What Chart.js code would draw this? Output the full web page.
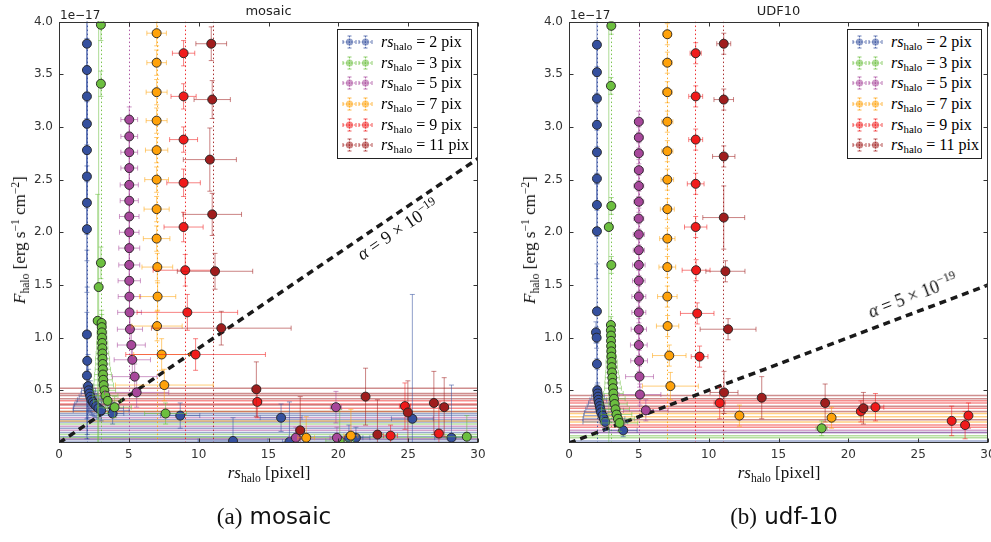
<!DOCTYPE html>
<html>
<head>
<meta charset="utf-8">
<script src="https://cdn.jsdelivr.net/npm/chart.js@4"></script>
<style>
  body { margin: 0; background: #fff; }
  #page { position: relative; width: 991px; height: 542px; overflow: hidden; }
  canvas { position: absolute; top: 0; }
  .serif { position: absolute; font-family: "Liberation Serif", "DejaVu Serif", serif; color: #111; white-space: nowrap; }
  .serif sub { font-size: 0.68em; vertical-align: -0.35em; line-height: 0; }
  .serif sup { font-size: 0.68em; vertical-align: 0.55em; line-height: 0; }
  .xtitle { top: 463px; font-size: 17px; transform: translateX(-50%); }
  .ytitle { top: 240px; font-size: 17px; transform: translate(-50%, -50%) rotate(-90deg); }
  .ann { font-size: 18px; transform: translate(-50%, -50%); }
  .expo { position: absolute; top: 8px; font: 12px "DejaVu Sans", sans-serif; color: #222; }
  .legend { position: absolute; top: 29px; width: 133px; height: 126px; border: 1px solid #222; background: #fff; padding-top: 2px; box-sizing: content-box; }
  .legend .row { height: 20.6px; display: flex; align-items: center; padding-left: 4px; }
  .legend svg { margin-right: 1px; }
  .legend .txt { font-family: "Liberation Serif", "DejaVu Serif", serif; font-size: 16px; margin-left: 7px; white-space: nowrap; }
  .legend .txt sub { font-size: 0.68em; vertical-align: -0.3em; line-height: 0; }
  .caption { position: absolute; top: 503px; font: 23px "DejaVu Sans", sans-serif; color: #111; transform: translateX(-50%); white-space: nowrap; }
  .caption .p { font-family: "Liberation Serif", serif; }
</style>
</head>
<body>
<div id="page">
  <canvas id="mosaic" width="490" height="470" style="left:0"></canvas>
  <canvas id="udf" width="490" height="470" style="left:510px"></canvas>
</div>
<script>
// radii of the injected haloes, one series each
const rsValues = [2, 3, 5, 7, 9, 11];
const seriesRgb = ['53,80,158', '108,191,63', '167,71,155', '255,162,10', '240,27,27', '160,29,29'];
const xTicks = [0, 5, 10, 15, 20, 25, 30];
const yTicks = [0.5, 1.0, 1.5, 2.0, 2.5, 3.0, 3.5, 4.0];
const panelTitles = ['mosaic', 'UDF10'];
const alphaCoeff = [9, 5];          // alpha in units of 1e-19
const fluxUnit = 1e-17;

// each row: [rs measured, F_halo (1e-17), x error, y error]
const mosaicRs2 = [
  [2.0,3.79,0.05,0.55],[2.0,3.54,0.05,0.55],[2.0,3.29,0.05,0.55],[2.0,3.03,0.05,0.55],[2.0,2.78,0.05,0.55],
  [2.0,2.53,0.05,0.55],[2.0,2.28,0.05,0.55],[2.0,2.03,0.05,0.6],[2.0,1.03,0.05,0.8],[2.02,0.78,0.1,0.7],
  [2.0,0.64,0.2,0.6],[2.08,0.54,0.35,0.3],[2.12,0.50,0.5,0.2],[2.18,0.47,0.6,0.16],[2.24,0.44,0.8,0.15],
  [2.32,0.41,1.0,0.14],[2.42,0.39,1.2,0.13],[2.52,0.37,1.4,0.12],[2.66,0.35,1.6,0.11],[2.82,0.33,1.8,0.1],
  [3.02,0.31,2.0,0.1],[3.84,0.28,0.8,0.1],[8.68,0.26,1.4,0.12],[12.46,0.02,2.5,0.22],[15.9,0.24,1.5,0.13],
  [16.5,0.01,0.5,0.38],[20.76,0.05,1.0,0.12],[21.26,0.05,1.0,0.1],[25.3,0.23,1.5,1.18],[28.1,0.05,1.2,0.5]
];
const mosaicRs3 = [
  [3.0,3.97,0.05,0.15],[3.0,3.41,0.05,0.12],[3.0,1.71,0.05,0.15],[2.84,1.48,0.08,2.6],[2.77,1.16,0.3,1.2],
  [3.05,1.14,0.3,0.12],[3.06,1.10,0.3,0.12],[3.07,1.05,0.35,0.12],[3.08,1.00,0.35,0.12],[3.09,0.95,0.4,0.12],
  [3.10,0.90,0.4,0.12],[3.11,0.85,0.45,0.12],[3.12,0.80,0.5,0.12],[3.13,0.75,0.5,0.12],[3.14,0.70,0.55,0.12],
  [3.15,0.65,0.6,0.12],[3.17,0.60,0.65,0.12],[3.20,0.55,0.7,0.12],[3.25,0.50,0.8,0.12],[3.32,0.45,0.9,0.12],
  [3.48,0.40,1.0,0.12],[3.98,0.34,1.2,0.1],[7.63,0.28,1.5,0.1],[20.1,0.02,1.0,0.3],[29.2,0.06,1.5,0.2]
];
const mosaicRs5 = [
  [5.03,3.07,0.6,0.12],[5.03,2.91,0.6,0.12],[5.03,2.76,0.6,0.12],[5.03,2.61,0.6,0.12],[5.03,2.45,0.65,0.12],
  [5.03,2.30,0.65,0.12],[5.03,2.15,0.7,0.12],[5.03,2.00,0.7,0.12],[5.03,1.85,0.75,0.12],[5.03,1.69,0.75,0.12],
  [5.03,1.54,0.8,0.12],[5.04,1.39,0.8,0.12],[5.05,1.24,0.85,0.12],[5.08,1.08,0.9,0.12],[5.18,0.93,1.0,0.12],
  [5.25,0.79,1.3,0.12],[5.42,0.63,1.6,0.12],[5.56,0.48,2.3,0.14],[19.83,0.34,0.4,0.15],[16.96,0.05,0.5,0.1],
  [19.9,0.05,0.5,0.1]
];
const mosaicRs7 = [
  [6.99,3.89,0.7,0.12],[6.99,3.61,0.7,0.12],[6.99,3.33,0.75,0.12],[6.99,3.06,0.75,0.12],[6.99,2.78,0.8,0.12],
  [6.99,2.50,0.85,0.12],[6.99,2.22,0.9,0.12],[6.99,1.94,0.95,0.12],[7.04,1.67,1.1,0.13],[7.06,1.39,1.3,0.13],
  [7.02,1.11,1.8,0.14],[7.35,0.84,2.0,0.15],[7.54,0.55,3.5,0.15],[17.7,0.05,0.6,0.2],[20.9,0.07,0.5,0.25]
];
const mosaicRs9 = [
  [8.92,3.70,0.8,0.12],[8.92,3.29,0.9,0.12],[8.92,2.88,1.0,0.12],[8.92,2.47,1.2,0.13],[8.92,2.05,1.4,0.14],
  [9.04,1.64,2.3,0.15],[9.19,1.24,3.6,0.17],[9.78,0.84,5.0,0.15],[14.2,0.39,0.3,0.15],[24.77,0.35,0.4,0.22],
  [27.2,0.09,0.3,0.3],[23.74,0.07,0.5,0.1]
];
const mosaicRs11 = [
  [10.9,3.79,1.1,0.16],[10.97,3.26,1.3,0.18],[10.8,2.69,1.9,0.3],[10.97,2.17,2.1,0.2],[11.17,1.63,2.7,0.17],
  [11.62,1.09,5.0,0.16],[14.13,0.51,0.3,0.26],[21.95,0.44,0.2,0.27],[26.84,0.38,0.2,0.3],[27.58,0.34,0.3,0.28],
  [24.98,0.29,0.2,0.3],[17.27,0.12,0.3,0.32],[22.8,0.08,0.3,0.33]
];
// faint fits whose x error spans the whole axis, by series
const mosaicWide = [
  [0.28,0.26,0.22,0.20,0.14,0.10,0.06,0.03,0.01],
  [0.30,0.18,0.08,0.05],
  [0.24,0.16,0.12,0.04],
  [0.21],
  [0.40,0.37,0.33,0.30],
  [0.52,0.47,0.45,0.42,0.36]
];

const udfRs2 = [
  [2.0,3.78,0.05,0.3],[2.0,3.52,0.05,0.3],[2.0,3.27,0.05,0.3],[2.0,3.02,0.05,0.3],[2.0,2.76,0.05,0.3],
  [2.0,2.51,0.05,0.3],[2.0,2.26,0.05,0.3],[2.0,2.01,0.05,0.45],[2.0,1.25,0.05,0.45],[1.93,1.05,0.1,0.1],
  [1.98,1.00,0.1,0.1],[2.0,0.75,0.1,0.2],[2.02,0.50,0.1,0.2],[2.05,0.47,0.3,0.1],[2.08,0.44,0.45,0.1],
  [2.10,0.41,0.6,0.1],[2.15,0.38,0.75,0.1],[2.20,0.35,0.9,0.1],[2.25,0.32,1.05,0.1],[2.30,0.29,1.2,0.1],
  [2.40,0.26,1.35,0.08],[2.50,0.23,1.5,0.08],[2.60,0.20,1.6,0.08],[3.88,0.12,1.0,0.06]
];
const udfRs3 = [
  [3.03,3.96,0.05,0.08],[3.0,3.39,0.05,0.08],[3.03,2.25,0.05,0.08],[2.85,2.05,0.3,2.1],[3.03,1.69,0.05,0.08],
  [3.0,1.12,0.2,0.08],[3.0,1.07,0.2,0.08],[3.01,1.02,0.25,0.08],[3.01,0.97,0.25,0.08],[3.02,0.92,0.3,0.08],
  [3.03,0.87,0.3,0.08],[3.04,0.82,0.35,0.08],[3.05,0.77,0.4,0.08],[3.06,0.72,0.4,0.08],[3.08,0.67,0.45,0.08],
  [3.10,0.62,0.5,0.08],[3.12,0.57,0.55,0.08],[3.15,0.52,0.6,0.08],[3.18,0.47,0.7,0.08],[3.22,0.42,0.8,0.08],
  [3.27,0.37,0.9,0.08],[3.33,0.32,1.0,0.08],[3.40,0.27,1.1,0.08],[3.50,0.23,1.2,0.08],[3.62,0.19,1.3,0.08],
  [18.09,0.14,0.4,0.07]
];
const udfRs5 = [
  [5.0,3.05,0.3,0.1],[5.0,2.90,0.3,0.1],[5.0,2.75,0.3,0.1],[5.0,2.59,0.3,0.1],[5.0,2.44,0.35,0.1],
  [5.0,2.29,0.35,0.1],[5.0,2.13,0.35,0.1],[5.0,1.98,0.4,0.1],[5.0,1.83,0.4,0.1],[5.0,1.69,0.45,0.1],
  [5.0,1.54,0.45,0.1],[5.0,1.39,0.5,0.1],[5.0,1.24,0.5,0.1],[5.0,1.08,0.55,0.1],[5.0,0.93,0.6,0.1],
  [5.02,0.78,0.6,0.1],[5.05,0.63,1.0,0.1],[5.08,0.46,1.5,0.1],[5.5,0.31,1.6,0.1]
];
const udfRs7 = [
  [7.04,3.88,0.3,0.1],[7.04,3.61,0.35,0.1],[7.04,3.33,0.35,0.1],[7.04,3.05,0.4,0.1],[7.04,2.77,0.4,0.1],
  [7.04,2.50,0.45,0.1],[7.04,2.22,0.5,0.1],[7.04,1.94,0.55,0.1],[7.04,1.67,0.6,0.1],[7.04,1.39,0.7,0.1],
  [7.06,1.11,0.8,0.1],[7.18,0.83,1.2,0.1],[7.26,0.54,2.0,0.13],[12.2,0.26,0.2,0.1],[18.8,0.24,0.2,0.1]
];
const udfRs9 = [
  [9.07,3.70,0.4,0.1],[9.07,3.29,0.5,0.1],[9.07,2.88,0.5,0.1],[9.07,2.46,0.6,0.1],[9.07,2.05,0.8,0.1],
  [9.10,1.64,1.0,0.1],[9.18,1.23,1.2,0.1],[9.35,0.82,0.6,0.1],[10.79,0.38,0.4,0.15],[20.9,0.30,0.3,0.1],
  [21.94,0.34,0.6,0.13],[27.4,0.21,0.2,0.14],[28.36,0.17,0.3,0.13],[28.6,0.26,0.2,0.12]
];
const udfRs11 = [
  [11.08,3.79,0.5,0.1],[11.08,3.26,0.7,0.1],[11.08,2.72,0.8,0.1],[11.08,2.14,1.5,0.3],[11.2,1.63,1.4,0.1],
  [11.39,1.08,2.0,0.1],[11.1,0.48,1.0,0.2],[13.8,0.43,0.1,0.2],[18.34,0.38,0.2,0.18],[21.08,0.33,0.3,0.15]
];
const udfWide = [
  [0.02,0.10],
  [0.05,0.07],
  [0.12,0.10],
  [0.25,0.20,0.28],
  [0.40,0.38,0.33,0.15,0.17],
  [0.45,0.42,0.35,0.30,0.22]
];

const xMax = 30;

// error bars, wide fits, true-radius lines, frame and inward ticks
const errPlugin = {
  id: 'errbars',
  beforeDatasetsDraw(chart, args, opts) {
    const { ctx, chartArea: a, scales: { x, y } } = chart;
    ctx.save();
    ctx.beginPath();
    ctx.rect(a.left, a.top, a.right - a.left, a.bottom - a.top);
    ctx.clip();
    ctx.lineWidth = 1.5;
    opts.wide.forEach((ys, k) => {
      ctx.strokeStyle = 'rgba(' + seriesRgb[k] + ',0.5)';
      ys.forEach(v => {
        const py = y.getPixelForValue(v);
        ctx.beginPath();
        ctx.moveTo(x.getPixelForValue(0), py);
        ctx.lineTo(x.getPixelForValue(xMax), py);
        ctx.stroke();
      });
    });
    ctx.lineWidth = 1;
    ctx.setLineDash([1.5, 2.5]);
    rsValues.forEach((r, k) => {
      const px = Math.round(x.getPixelForValue(r)) + 0.5;
      ctx.strokeStyle = 'rgba(' + seriesRgb[k] + ',0.9)';
      ctx.beginPath();
      ctx.moveTo(px, a.top);
      ctx.lineTo(px, a.bottom);
      ctx.stroke();
    });
    ctx.restore();
  },
  beforeDatasetDraw(chart, args) {
    const ds = chart.data.datasets[args.index];
    if (!ds.errColor) return;
    const { ctx, chartArea: a, scales: { x, y } } = chart;
    ctx.save();
    ctx.beginPath();
    ctx.rect(a.left, a.top, a.right - a.left, a.bottom - a.top);
    ctx.clip();
    ctx.strokeStyle = ds.errColor;
    ctx.lineWidth = 1;
    const c = 2.5;
    ds.data.forEach(p => {
      const px = x.getPixelForValue(p.x), py = y.getPixelForValue(p.y);
      const x0 = x.getPixelForValue(p.x - p.xe), x1 = x.getPixelForValue(p.x + p.xe);
      const y0 = y.getPixelForValue(p.y - p.ye), y1 = y.getPixelForValue(p.y + p.ye);
      ctx.beginPath();
      ctx.moveTo(x0, py); ctx.lineTo(x1, py);
      ctx.moveTo(px, y0); ctx.lineTo(px, y1);
      ctx.moveTo(x0, py - c); ctx.lineTo(x0, py + c);
      ctx.moveTo(x1, py - c); ctx.lineTo(x1, py + c);
      ctx.moveTo(px - c, y0); ctx.lineTo(px + c, y0);
      ctx.moveTo(px - c, y1); ctx.lineTo(px + c, y1);
      ctx.stroke();
    });
    ctx.restore();
  },
  afterDraw(chart) {
    const { ctx, chartArea: a, scales: { x, y } } = chart;
    ctx.save();
    ctx.strokeStyle = '#333';
    ctx.lineWidth = 1;
    const L = Math.round(a.left) + 0.5, R = Math.round(a.right) - 0.5;
    const T = Math.round(a.top) + 0.5, B = Math.round(a.bottom) - 0.5;
    ctx.strokeRect(L, T, R - L, B - T);
    ctx.beginPath();
    xTicks.forEach(v => {
      const px = Math.round(x.getPixelForValue(v)) + 0.5;
      ctx.moveTo(px, B); ctx.lineTo(px, B - 4);
      ctx.moveTo(px, T); ctx.lineTo(px, T + 4);
    });
    yTicks.forEach(v => {
      const py = Math.round(y.getPixelForValue(v)) + 0.5;
      ctx.moveTo(L, py); ctx.lineTo(L + 4, py);
      ctx.moveTo(R, py); ctx.lineTo(R - 4, py);
    });
    ctx.stroke();
    ctx.restore();
  }
};

Chart.defaults.font.family = '"DejaVu Sans", sans-serif';
Chart.defaults.font.size = 12;
Chart.defaults.color = '#333';

function makeChart(id, title, series, wide, coeff) {
  const slope = coeff * 1e-19 / fluxUnit;
  const datasets = series.map((rows, k) => ({
    label: 'rs_halo = ' + rsValues[k] + ' pix',
    data: rows.map(r => ({ x: r[0], y: r[1], xe: r[2], ye: r[3] })),
    showLine: false,
    pointRadius: 4.5,
    pointHoverRadius: 4.5,
    pointBackgroundColor: 'rgb(' + seriesRgb[k] + ')',
    pointBorderColor: '#222',
    pointBorderWidth: 0.9,
    errColor: 'rgba(' + seriesRgb[k] + ',0.55)',
    order: 10 - k
  }));
  datasets.push({
    label: 'alpha',
    data: [{ x: 0, y: 0 }, { x: xMax, y: slope * xMax }],
    showLine: true,
    borderColor: '#1a1a1a',
    borderWidth: 3.5,
    borderDash: [7, 5],
    pointRadius: 0,
    order: 20
  });

  return new Chart(document.getElementById(id), {
    type: 'scatter',
    data: { datasets },
    options: {
      responsive: false,
      animation: false,
      events: [],
      layout: { padding: { left: 0, right: 12, top: 0, bottom: 0 } },
      plugins: {
        legend: { display: false },
        tooltip: { enabled: false },
        title: {
          display: true,
          text: title,
          fullSize: false,
          color: '#222',
          font: { size: 13, weight: 'normal' },
          padding: { top: 4, bottom: 2 }
        },
        errbars: { wide }
      },
      scales: {
        x: {
          type: 'linear', min: 0, max: xMax,
          ticks: { stepSize: 5, padding: 5, maxRotation: 0 },
          grid: { display: false, drawTicks: false },
          border: { display: false },
          afterFit(s) { s.height = 27; s.paddingLeft = 0; s.paddingRight = 0; }
        },
        y: {
          min: 0, max: 4,
          ticks: { stepSize: 0.5, padding: 6, callback: v => v === 0 ? '' : v.toFixed(1) },
          grid: { display: false, drawTicks: false },
          border: { display: false },
          afterFit(s) { s.width = 59; s.paddingTop = 0; s.paddingBottom = 0; }
        }
      }
    },
    plugins: [errPlugin]
  });
}

makeChart('mosaic', panelTitles[0], [mosaicRs2, mosaicRs3, mosaicRs5, mosaicRs7, mosaicRs9, mosaicRs11], mosaicWide, alphaCoeff[0]);
makeChart('udf', panelTitles[1], [udfRs2, udfRs3, udfRs5, udfRs7, udfRs9, udfRs11], udfWide, alphaCoeff[1]);

// text overlays: axis titles, legends, annotations, captions
const page = document.getElementById('page');
function add(cls, html, style) {
  const d = document.createElement('div');
  d.className = cls;
  d.innerHTML = html;
  Object.assign(d.style, style);
  page.appendChild(d);
  return d;
}
function marker(k) {
  const s = 'rgba(' + seriesRgb[k] + ',0.75)';
  return '<svg width="15" height="14" viewBox="0 0 15 14">' +
    '<g stroke="' + s + '" stroke-width="1" fill="none">' +
    '<line x1="1" y1="7" x2="14" y2="7" stroke-dasharray="1.5 1.2"/>' +
    '<line x1="7.5" y1="1" x2="7.5" y2="13" stroke-dasharray="1.5 1.2"/>' +
    '<line x1="1" y1="5" x2="1" y2="9"/><line x1="14" y1="5" x2="14" y2="9"/>' +
    '<line x1="5.5" y1="1" x2="9.5" y2="1"/><line x1="5.5" y1="13" x2="9.5" y2="13"/></g>' +
    '<circle cx="7.5" cy="7" r="3.6" fill="rgba(' + seriesRgb[k] + ',0.55)"/></svg>';
}
const panelOffsets = [0, 510];
const annotations = [
  { left: '398px', top: '230px', rot: -34 },
  { left: '913px', top: '296px', rot: -21 }
];
const captions = [['(a)', 'mosaic', '274px'], ['(b)', 'udf-10', '784px']];
panelOffsets.forEach((off, p) => {
  add('expo', '1e\u221217', { left: (off + 60) + 'px' });
  add('serif xtitle', '<i>rs</i><sub>halo</sub> [pixel]', { left: (off + 269) + 'px' });
  add('serif ytitle', '<i>F</i><sub>halo</sub> [erg s<sup>\u22121</sup> cm<sup>\u22122</sup>]', { left: (off + 20) + 'px' });
  const an = annotations[p];
  add('serif ann', '<i>\u03b1</i> = ' + alphaCoeff[p] + ' \u00d7 10<sup>\u221219</sup>',
      { left: an.left, top: an.top, transform: 'translate(-50%,-50%) rotate(' + an.rot + 'deg)' });
  const lg = add('legend', '', { left: (off + 337) + 'px' });
  rsValues.forEach((r, k) => {
    const row = document.createElement('div');
    row.className = 'row';
    row.innerHTML = marker(k) + marker(k) + '<span class="txt"><i>rs</i><sub>halo</sub> = ' + r + ' pix</span>';
    lg.appendChild(row);
  });
  const c = captions[p];
  add('caption', '<span class="p">' + c[0] + '</span> ' + c[1], { left: c[2] });
});
</script>
</body>
</html>
